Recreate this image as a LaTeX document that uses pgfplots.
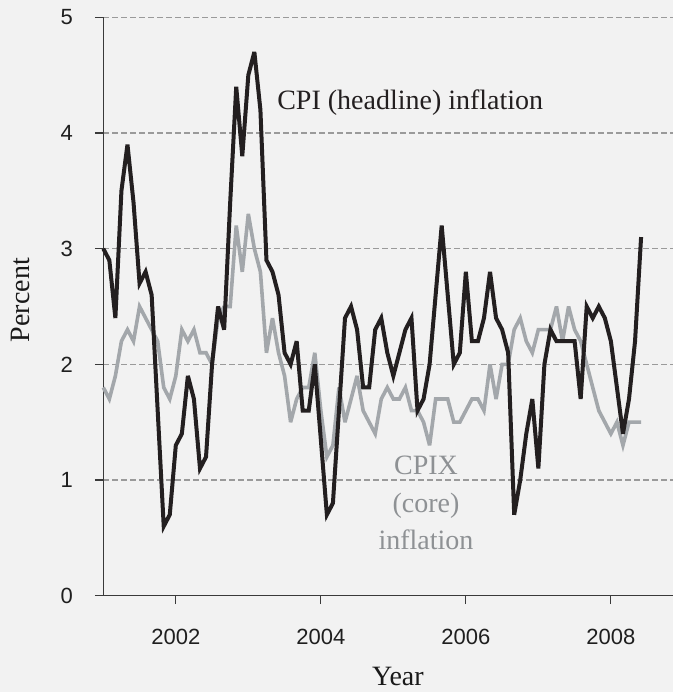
\documentclass[border=0pt]{standalone}
\usepackage{fontspec}
\setmainfont{Liberation Serif}
\newfontfamily\tickfont{Liberation Sans}
\usepackage{pgfplots}
\usepackage{pgfplotstable}
\pgfplotsset{compat=1.18}
\definecolor{bgc}{HTML}{F2F2F2}
\definecolor{cpiblack}{HTML}{231F20}
\definecolor{cpixgray}{HTML}{A3A7AB}
\definecolor{cpixtext}{HTML}{8E9194}
\definecolor{gridc}{HTML}{9A9A9A}
\definecolor{axisc}{HTML}{3A3A3A}

% month index (0 = Jan 2001), headline CPI, core CPIX
\pgfplotstableread{
m cpi cpix
0 3.0 1.8
1 2.9 1.7
2 2.4 1.9
3 3.5 2.2
4 3.9 2.3
5 3.4 2.2
6 2.7 2.5
7 2.8 2.4
8 2.6 2.3
9 1.6 2.2
10 0.6 1.8
11 0.7 1.7
12 1.3 1.9
13 1.4 2.3
14 1.9 2.2
15 1.7 2.3
16 1.1 2.1
17 1.2 2.1
18 2.0 2.0
19 2.5 2.4
20 2.3 2.5
21 3.4 2.5
22 4.4 3.2
23 3.8 2.8
24 4.5 3.3
25 4.7 3.0
26 4.2 2.8
27 2.9 2.1
28 2.8 2.4
29 2.6 2.1
30 2.1 1.9
31 2.0 1.5
32 2.2 1.7
33 1.6 1.8
34 1.6 1.8
35 2.0 2.1
36 1.35 1.6
37 0.7 1.2
38 0.8 1.3
39 1.6 1.8
40 2.4 1.5
41 2.5 1.7
42 2.3 1.9
43 1.8 1.6
44 1.8 1.5
45 2.3 1.4
46 2.4 1.7
47 2.1 1.8
48 1.9 1.7
49 2.1 1.7
50 2.3 1.8
51 2.4 1.6
52 1.6 1.6
53 1.7 1.5
54 2.0 1.3
55 2.6 1.7
56 3.2 1.7
57 2.6 1.7
58 2.0 1.5
59 2.1 1.5
60 2.8 1.6
61 2.2 1.7
62 2.2 1.7
63 2.4 1.6
64 2.8 2.0
65 2.4 1.7
66 2.3 2.0
67 2.1 2.0
68 0.7 2.3
69 1.0 2.4
70 1.4 2.2
71 1.7 2.1
72 1.1 2.3
73 2.0 2.3
74 2.3 2.3
75 2.2 2.5
76 2.2 2.2
77 2.2 2.5
78 2.2 2.3
79 1.7 2.2
80 2.5 2.0
81 2.4 1.8
82 2.5 1.6
83 2.4 1.5
84 2.2 1.4
85 1.8 1.5
86 1.4 1.3
87 1.7 1.5
88 2.2 1.5
89 3.1 1.5
}\inflation

\begin{document}
\begin{tikzpicture}
\useasboundingbox (-103.3pt,-96.3pt) rectangle (569.8pt,595.7pt);
\fill[bgc] (-103.3pt,-96.3pt) rectangle (569.8pt,595.7pt);
\begin{axis}[
  at={(0pt,0pt)}, anchor=south west,
  width=569.8pt, height=578.4pt, scale only axis,
  xmin=0, xmax=94.3, ymin=0, ymax=5,
  axis lines*=left,
  axis line style={-, draw=axisc, line width=1.2pt},
  tick align=outside,
  major tick length=8.5pt,
  tick style={draw=axisc, line width=1.1pt},
  xtick={12,36,60,84},
  xticklabels={2002,2004,2006,2008},
  ytick={0,1,2,3,4,5},
  yticklabels={0,1,2,3,4,5},
  xticklabel style={font=\tickfont\fontsize{22}{26}\selectfont, text=black!88, anchor=center, yshift=-32.6pt},
  yticklabel style={font=\tickfont\fontsize{22}{26}\selectfont, text=black!88, anchor=center, xshift=-28pt},
  ymajorgrids=true,
  major grid style={draw=gridc, line width=1.3pt, dash pattern=on 6pt off 3pt},
  xlabel={Year},
  ylabel={Percent},
  label style={font=\fontsize{28}{32}\selectfont, text=black!90},
  xlabel style={at={(axis description cs:0.517,-0.1388)}, anchor=center},
  ylabel style={at={(axis description cs:-0.1448,0.511)}, anchor=center, rotate=0},
  clip=false,
]
\addplot[draw=cpixgray, line width=3.6pt, line join=miter, miter limit=4] table[x=m, y=cpix] {\inflation};
\addplot[draw=cpiblack, line width=4pt, line join=miter, miter limit=4] table[x=m, y=cpi] {\inflation};
\node[font=\fontsize{28}{32}\selectfont, text=cpiblack, anchor=center] at (axis cs:50.8,4.26) {CPI (headline) inflation};
\node[font=\fontsize{28}{37.5}\selectfont, text=cpixtext, align=center, anchor=center] at (axis cs:53.4,0.80) {CPIX\\(core)\\inflation};
\end{axis}
\end{tikzpicture}
\end{document}
